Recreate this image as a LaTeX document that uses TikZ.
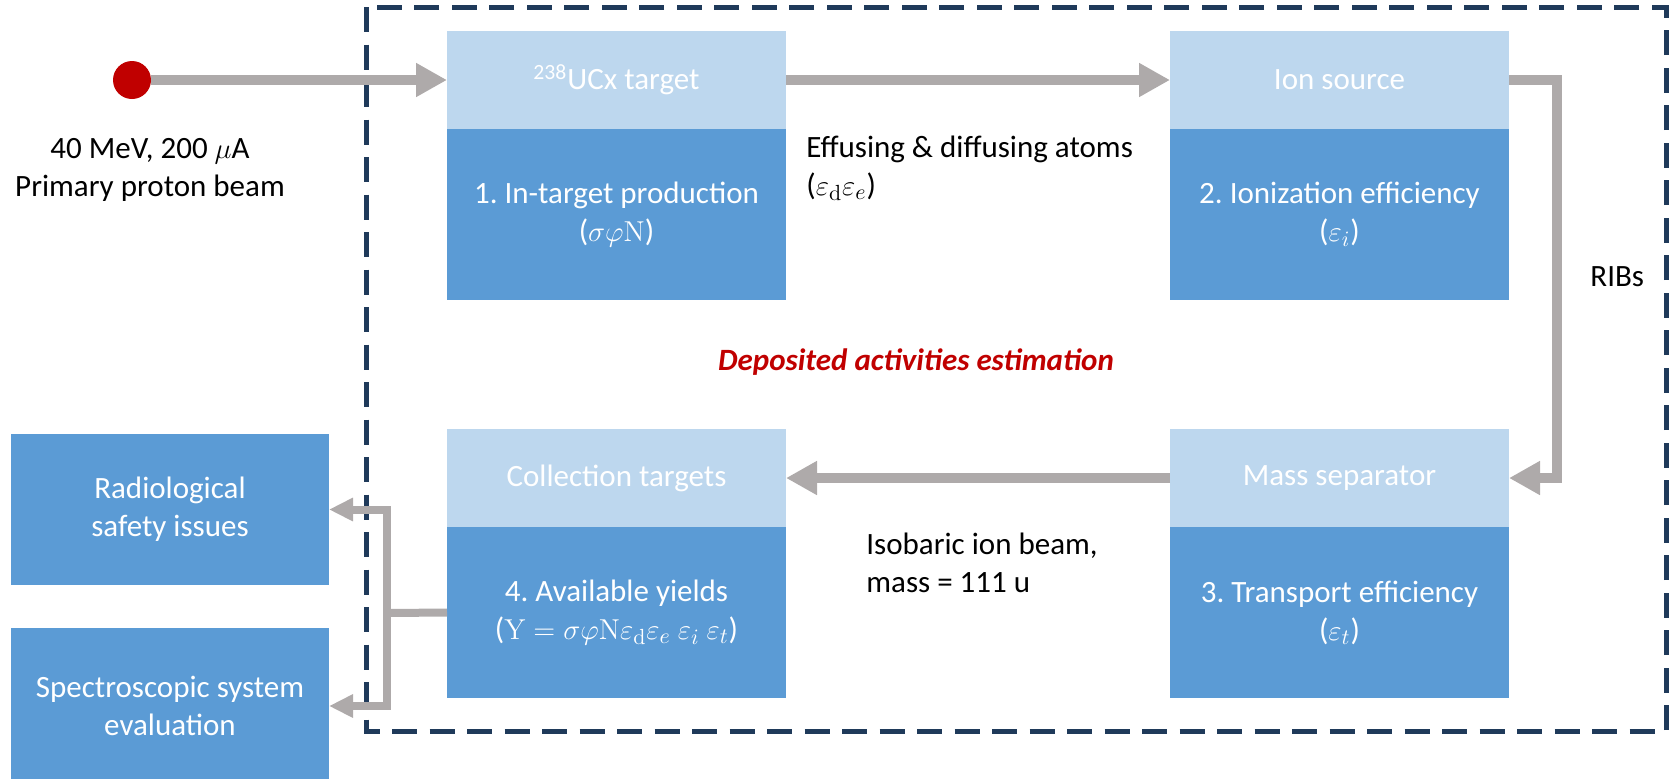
\documentclass[tikz,border=0pt]{standalone}
\usepackage[no-math]{fontspec}
\setmainfont{Carlito}
\usepackage{amsmath}
\usetikzlibrary{arrows.meta,positioning}
\definecolor{paleblue}{HTML}{BDD7EE}
\definecolor{midblue}{HTML}{5B9BD5}
\definecolor{pipegray}{HTML}{AEAAAA}
\definecolor{beamred}{HTML}{C00000}
\definecolor{framenavy}{HTML}{1F3A5A}
\frenchspacing

\begin{document}
\begin{tikzpicture}[x=0.5pt,y=-0.5pt,font=\fontsize{15.5}{19}\selectfont,
  head/.style={inner sep=0pt,outer sep=0pt,fill=paleblue,text=white,
    minimum width=169.5pt,minimum height=49pt},
  body/.style={inner sep=0pt,outer sep=0pt,fill=midblue,text=white,
    minimum width=169.5pt,minimum height=85.5pt,align=center},
  sidebox/.style={inner sep=0pt,outer sep=0pt,fill=midblue,text=white,
    minimum width=159pt,align=center},
  pipe/.style={pipegray,line width=5pt,-{Triangle[length=15.5pt,width=16pt]}},
  twig/.style={pipegray,line width=4pt},
  note/.style={inner sep=0pt,align=left}]
  \useasboundingbox (0,0) rectangle (1669,778);

  % Dashed frame round the estimation chain.
  \draw[framenavy,line width=2.5pt,dash pattern=on 12.5pt off 6.25pt]
    (366,7) rectangle (1666,731);

  \newcommand{\stagebox}[5]{%
    \node[head] (#1) at (#2,#3) {#4};
    \node[body,below=0pt of #1] (#1-low) {#5};
  }
  \stagebox{target}{616.5}{80}{\textsuperscript{238}UCx target}
    {1. In-target production\\($\sigma\varphi\mathrm{N}$)}
  \stagebox{source}{1339.5}{80}{Ion source}
    {2. Ionization efficiency\\($\varepsilon_i$)}
  \stagebox{separator}{1339.5}{478}{Mass separator}
    {3. Transport efficiency\\($\varepsilon_t$)}
  \stagebox{collect}{616.5}{478}{Collection targets}
    {4. Available yields\\($\mathrm{Y}=\sigma\varphi\mathrm{N}\varepsilon_\mathrm{d}\varepsilon_e\ \varepsilon_i\ \varepsilon_t$)}

  % Outputs on the left.
  \node[sidebox,minimum height=75.5pt] (radio) at (170,509.5)
    {Radiological\\safety issues};
  \node[sidebox,minimum height=78pt] (spectro) at (170,706)
    {Spectroscopic system\\evaluation};

  % Beam and flow.
  \node[circle,fill=beamred,minimum size=19pt,inner sep=0pt] (proton) at (132,80) {};
  \draw[pipe] (proton) -- (target);
  \draw[pipe] (target) -- (source);
  \coordinate (ribturn) at (1557,300);
  \draw[pipe] (source) -| (ribturn) |- (separator);
  \draw[pipe] (separator) -- (collect);

  \coordinate (fork) at (387,613);
  \draw[twig] (collect-low.west) -- (fork);
  \draw[twig,{Triangle[length=12pt,width=11pt]}-{Triangle[length=12pt,width=11pt]}]
    (radio) -| (fork) |- (spectro);

  % Labels.
  \node[align=center] (beamlabel) at (150,169.5)
    {40 MeV, 200 $\mu$A\\Primary proton beam};
  \node[note,anchor=west] (atomlabel) at (806,168.5)
    {Effusing \& diffusing atoms\\($\varepsilon_\mathrm{d}\varepsilon_e$)};
  \node[note,anchor=west] (ribslabel) at (1590,277) {RIBs};
  \node[note,anchor=west] (isolabel) at (866,562.5)
    {Isobaric ion beam,\\mass = 111 u};
  \node[text=beamred,font=\fontsize{15.5}{19}\selectfont\bfseries\itshape]
    (tasklabel) at (916,362) {Deposited activities estimation};
\end{tikzpicture}
\end{document}
